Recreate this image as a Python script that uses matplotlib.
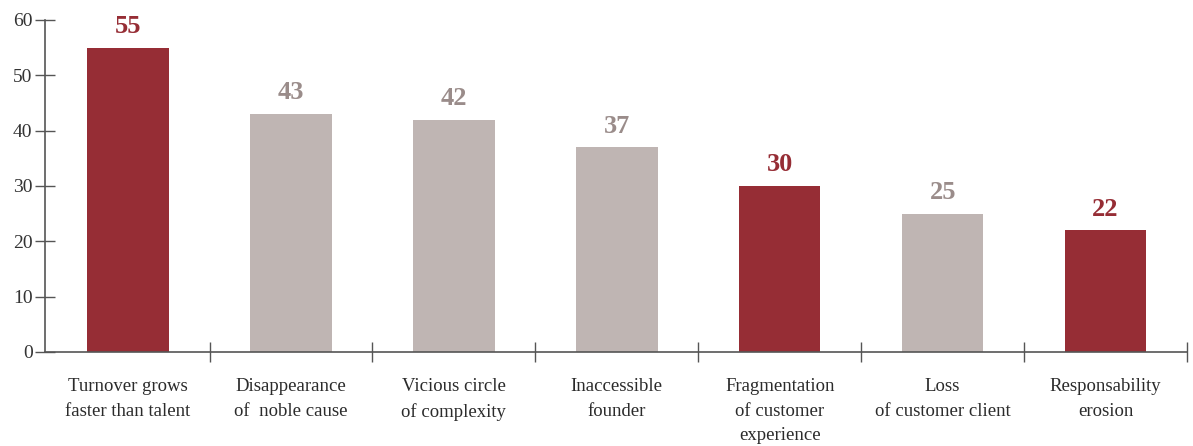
import matplotlib
matplotlib.use("Agg")
import matplotlib.pyplot as plt

categories = [
    "Turnover grows\nfaster than talent",
    "Disappearance\nof  noble cause",
    "Vicious circle\nof complexity",
    "Inaccessible\nfounder",
    "Fragmentation\nof customer\nexperience",
    "Loss\nof customer client",
    "Responsability\nerosion",
]
values = [55, 43, 42, 37, 30, 25, 22]
highlight = [True, False, False, False, True, False, True]
y_ticks = [0, 10, 20, 30, 40, 50, 60]

RED = "#962d35"
GREY = "#bfb5b3"
GREY_TEXT = "#9a8c8a"
AXIS = "#555555"

plt.rcParams["font.family"] = ["Liberation Serif", "DejaVu Serif"]

fig = plt.figure(figsize=(11.93, 4.46), dpi=100)
ax = fig.add_axes([45 / 1193, 1 - 352 / 446, 1142 / 1193, 332 / 446])

x = list(range(len(categories)))
colors = [RED if h else GREY for h in highlight]
bars = ax.bar(x, values, width=0.5, color=colors, zorder=2)

for xi, v, h in zip(x, values, highlight):
    ax.annotate(str(v), (xi, v), xytext=(0, 7), textcoords="offset points",
                ha="center", va="bottom", fontsize=19, fontweight="bold",
                color=RED if h else GREY_TEXT, annotation_clip=False)

ax.set_xlim(-0.51, len(categories) - 0.5)
ax.set_ylim(0, 60)
ax.set_yticks(y_ticks)

# Boundary ticks between categories, labels centred under each bar
ax.set_xticks([i + 0.5 for i in x])
ax.set_xticklabels([])
ax.set_xticks(x, minor=True)
ax.set_xticklabels(categories, minor=True, fontsize=13.5, color="#2b2b2b",
                   linespacing=1.55)
ax.tick_params(axis="x", which="major", direction="inout", length=14,
               width=1, color=AXIS)
ax.tick_params(axis="x", which="minor", length=0, pad=19)
ax.tick_params(axis="y", direction="inout", length=14, width=1, color=AXIS,
               labelsize=14, labelcolor="#333333", pad=2)

for side in ("top", "right"):
    ax.spines[side].set_visible(False)
for side in ("left", "bottom"):
    ax.spines[side].set_color(AXIS)
    ax.spines[side].set_linewidth(1.2)

fig.savefig("out.png", dpi=100)
